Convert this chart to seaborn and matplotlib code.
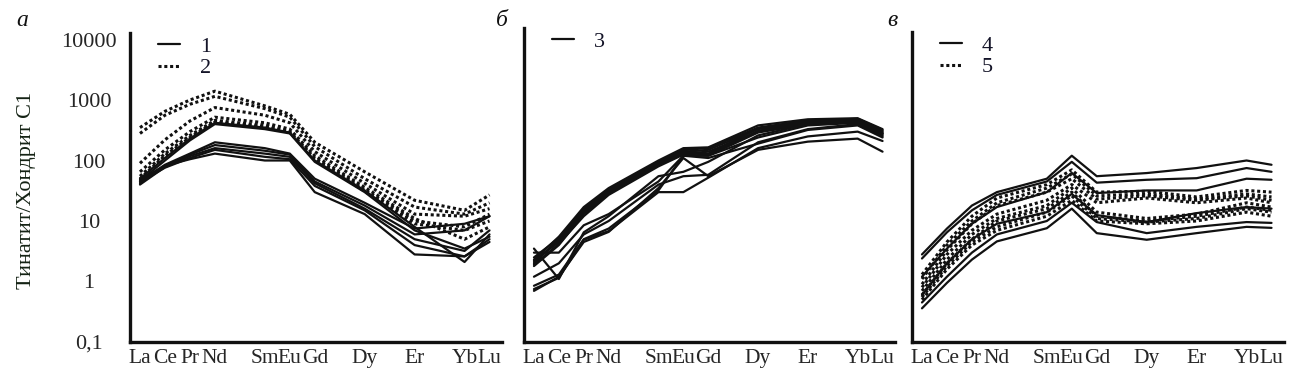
import numpy as np
import pandas as pd
import matplotlib
matplotlib.use('Agg')
import matplotlib.pyplot as plt
import seaborn as sns
from matplotlib.lines import Line2D
from matplotlib.ticker import LogLocator, FuncFormatter, NullFormatter

# === Data ===
elements = ['La', 'Ce', 'Pr', 'Nd', 'Sm', 'Eu', 'Gd', 'Dy', 'Er', 'Yb', 'Lu']
atomic_no = [57, 58, 59, 60, 62, 63, 64, 66, 68, 70, 71]
all_ticks = list(range(57, 72))

# panel а, group 1 (solid)
a_group1 = [
    [45, 85, 130, 200, 160, 130, 50, 20, 7.5, 9, 12],
    [42, 80, 125, 180, 145, 125, 45, 18, 6, 7, 12],
    [40, 78, 118, 160, 130, 115, 42, 16, 5, 3.2, 7],
    [44, 76, 110, 150, 115, 105, 38, 15, 4, 2.6, 5],
    [48, 82, 105, 130, 100, 100, 30, 13, 2.8, 2.6, 4.5],
    [50, 110, 230, 420, 350, 290, 100, 32, 8, 2.1, 6],
    [46, 100, 215, 400, 330, 280, 95, 30, 7, 3.5, 5.5],
]
# panel а, group 2 (dotted)
a_group2 = [
    [350, 650, 1000, 1400, 800, 580, 200, 65, 22, 15, 27],
    [280, 560, 850, 1150, 720, 520, 170, 50, 17, 13, 20],
    [90, 220, 450, 750, 560, 420, 140, 42, 13, 12, 16],
    [65, 150, 300, 520, 420, 330, 120, 36, 11, 5, 8],
    [55, 130, 260, 460, 380, 300, 110, 33, 10, 8, 13],
    [50, 120, 240, 430, 360, 290, 105, 31, 9, 7, 10],
]
# panel б, group 3 (solid)
b_group3 = [
    [2.3, 5.5, 17, 35, 100, 160, 165, 380, 480, 500, 330],
    [2.0, 5.0, 15, 32, 95, 150, 160, 350, 460, 480, 310],
    [2.2, 4.5, 14, 30, 90, 140, 150, 330, 440, 470, 300],
    [1.8, 4.0, 13, 28, 85, 130, 140, 300, 420, 450, 290],
    [2.5, 5.2, 16, 33, 92, 145, 130, 340, 450, 490, 320],
    [2.1, 4.8, 14, 29, 88, 135, 125, 310, 430, 460, 280],
    [1.9, 4.2, 12, 27, 80, 125, 120, 290, 400, 430, 260],
    [3.5, 1.1, 6.5, 12, 55, 65, 95, 260, 400, 440, 280],
    [3.0, 3.0, 8.5, 13, 45, 120, 120, 240, 380, 420, 270],
    [1.2, 2.0, 6.0, 10, 40, 55, 58, 200, 330, 400, 250],
    [0.85, 1.3, 5.0, 7.5, 32, 120, 110, 190, 320, 380, 240],
    [0.75, 1.15, 4.9, 6.8, 30, 30, 52, 160, 250, 300, 210],
    [0.7, 1.2, 4.5, 6.6, 35, 110, 55, 150, 205, 230, 140],
]
# panel в, group 4 (solid)
c_group4 = [
    [2.8, 7.5, 18, 30, 50, 120, 55, 62, 75, 100, 85],
    [2.4, 6.5, 15, 27, 45, 95, 43, 48, 51, 75, 65],
    [1.2, 3.5, 9, 17, 30, 62, 29, 32, 32, 50, 48],
    [0.6, 2.0, 5, 9, 14, 28, 12.5, 9.6, 13.5, 17, 16],
    [0.45, 1.2, 3.0, 6, 10, 20, 9.6, 6.3, 8, 9.6, 9.3],
    [0.36, 0.95, 2.3, 4.6, 7.6, 16, 6.3, 4.9, 6.3, 8, 7.7],
]
# panel в, group 5 (dotted)
c_group5 = [
    [1.3, 4.5, 12, 24, 40, 70, 30, 31, 25, 32, 30],
    [1.1, 4.0, 10, 20, 35, 60, 26, 28, 23, 28, 25],
    [0.9, 3.3, 9, 18, 30, 50, 23, 26, 22, 26, 22],
    [0.8, 2.8, 7, 13, 22, 40, 20, 24, 20, 24, 20],
    [0.7, 2.3, 6, 11, 18, 35, 14, 11, 13, 20, 17],
    [0.6, 2.0, 5, 10, 16, 30, 12, 10, 12, 17, 15],
    [0.55, 1.8, 4.5, 8, 14, 26, 11, 9.6, 11, 16, 14],
    [0.5, 1.6, 4, 7, 12, 22, 10, 9, 10, 14, 12],
]

INK = '#111111'
SOLID = dict(lw=1.6, linestyle='-')
DOTTED = dict(lw=2.2, linestyle=(0, (1, 0.9)))


def long_form(rows, group):
    recs = []
    for i, vals in enumerate(rows):
        for z, v in zip(atomic_no, vals):
            recs.append({'sample': f'{group}-{i}', 'z': z, 'value': v})
    return pd.DataFrame(recs)


def draw_panel(ax, groups, top, legend_labels, show_ylabels):
    for rows, name, style in groups:
        df = long_form(rows, name)
        sns.lineplot(data=df, x='z', y='value', units='sample', estimator=None,
                     sort=False, color=INK, ax=ax, legend=False, **style)
    ax.set_yscale('log')
    ax.set_ylim(0.1, 10 ** top)
    ax.set_xlim(56.6, 71.5)
    ax.set_xlabel('')
    ax.set_ylabel('')
    for s in ['top', 'right']:
        ax.spines[s].set_visible(False)
    for s in ['left', 'bottom']:
        ax.spines[s].set_linewidth(2.4)
        ax.spines[s].set_color(INK)

    ax.set_xticks(all_ticks)
    ax.set_xticklabels([elements[atomic_no.index(t)] if t in atomic_no else '' for t in all_ticks])
    ax.tick_params(axis='x', direction='in', length=5, width=1.2, pad=5,
                   labelsize=15.5, color=INK)

    ax.yaxis.set_major_locator(LogLocator(base=10, numticks=10))
    ax.yaxis.set_minor_locator(LogLocator(base=10, subs=np.arange(2, 10), numticks=20))
    ax.yaxis.set_minor_formatter(NullFormatter())
    if show_ylabels:
        ax.yaxis.set_major_formatter(FuncFormatter(lambda v, _: ('%g' % v).replace('.', ',')))
    else:
        ax.yaxis.set_major_formatter(NullFormatter())
    # tick labels in the reference are centred in a column left of the axis
    ax.tick_params(axis='y', which='major', direction='in', length=7, width=1.3,
                   labelsize=16, pad=29.5, color=INK)
    ax.tick_params(axis='y', which='minor', direction='in', length=4, width=1.0, color=INK)
    for lbl in ax.get_yticklabels():
        lbl.set_horizontalalignment('center')
    ax.grid(False)

    handles = [Line2D([], [], color=INK, **st) for st in [g[2] for g in groups]]
    ax.legend(handles=handles, labels=legend_labels, loc='upper left',
              bbox_to_anchor=(0.075, 0.99), frameon=False, borderpad=0,
              borderaxespad=0, handlelength=1.0, handletextpad=0.9,
              labelspacing=0.05, fontsize=16, labelcolor='#141428')


# === Figure ===
sns.set_style('white')
plt.rcParams['font.family'] = ['Liberation Serif', 'DejaVu Serif']

fig = plt.figure(figsize=(12.96, 3.86), dpi=100)
W, H = 1296, 386
bottom = 342


def add_axes(x0, x1, ytop):
    return fig.add_axes([x0 / W, 1 - bottom / H, (x1 - x0) / W, (bottom - ytop) / H])


ax_a = add_axes(130, 502, 33)
ax_b = add_axes(524, 895, 28)
ax_c = add_axes(912, 1284, 32)

decade = 60.5
draw_panel(ax_a, [(a_group1, '1', SOLID), (a_group2, '2', DOTTED)],
           -1 + (bottom - 33) / decade, ['1', '2'], True)
draw_panel(ax_b, [(b_group3, '3', SOLID)],
           -1 + (bottom - 28) / decade, ['3'], False)
draw_panel(ax_c, [(c_group4, '4', SOLID), (c_group5, '5', DOTTED)],
           -1 + (bottom - 32) / decade, ['4', '5'], False)

fig.text(27 / W, 1 - 190 / H, 'Тинатит/Хондрит C1', rotation=90, ha='center',
         va='center', fontsize=16, color='#142214')
for x, letter in [(22, 'а'), (502, 'б'), (892, 'в')]:
    fig.text(x / W, 1 - 20 / H, letter, ha='center', va='center',
             fontsize=17, style='italic', color=INK)

fig.savefig('out.png', dpi=100)
